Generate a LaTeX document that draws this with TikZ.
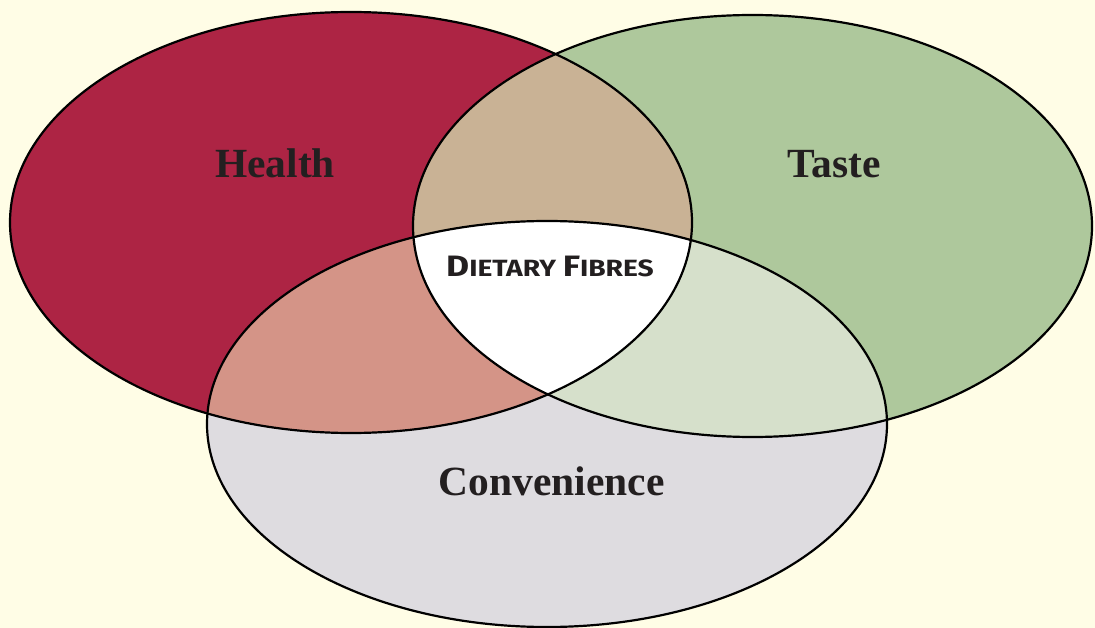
\documentclass[tikz,border=0pt]{standalone}
\usepackage{fontspec}
\setmainfont{Liberation Serif}
\newfontfamily\firafont{Fira Sans}
\definecolor{bgcream}{HTML}{FFFDE6}
\definecolor{healthred}{HTML}{AD2444}
\definecolor{tastegreen}{HTML}{AEC89C}
\definecolor{convgray}{HTML}{DEDCE0}
\definecolor{htbrown}{HTML}{C9B295}
\definecolor{hcpink}{HTML}{D49487}
\definecolor{tclight}{HTML}{D6E0CB}
\definecolor{inkdark}{HTML}{231F20}
\newcommand\dfbig{\fontsize{29.5pt}{32pt}\selectfont}
\newcommand\dfsmall{\fontsize{23.5pt}{32pt}\selectfont}
\tikzset{
  healthshape/.style={insert path={(351,222.5) ellipse [x radius=341pt, y radius=210.5pt]}},
  tasteshape/.style={insert path={(752.5,226) ellipse [x radius=339.5pt, y radius=211pt]}},
  convshape/.style={insert path={(547,424) ellipse [x radius=340pt, y radius=203pt]}},
  outline/.style={draw=black, line width=2.2pt},
  setlabel/.style={anchor=base, text=inkdark, font=\fontsize{41.5pt}{48pt}\selectfont\bfseries, inner sep=0pt},
  corelabel/.style={anchor=base, text=inkdark, font=\firafont\bfseries, inner sep=0pt, transform shape, xscale=1.2}
}
\begin{document}
\begin{tikzpicture}[x=1pt,y=-1pt]
\fill[bgcream] (0,0) rectangle (1095,628);
\useasboundingbox (0,0) rectangle (1095,628);
% base fills
\fill[healthred, healthshape];
\fill[tastegreen, tasteshape];
\fill[convgray, convshape];
% pairwise overlaps
\begin{scope}
  \clip[healthshape];
  \fill[htbrown, tasteshape];
  \fill[hcpink, convshape];
\end{scope}
\begin{scope}
  \clip[tasteshape];
  \fill[tclight, convshape];
\end{scope}
% triple overlap
\begin{scope}
  \clip[healthshape];
  \clip[tasteshape];
  \fill[white, convshape];
\end{scope}
% outlines
\path[outline, healthshape];
\path[outline, tasteshape];
\path[outline, convshape];
% labels
\node[setlabel] (health) at (275,178) {Health};
\node[setlabel] (taste) at (834,178) {Taste};
\node[setlabel] (convenience) at (551.5,495) {Convenience};
\node[corelabel] (fibres) at (550,277) {\dfbig D\dfsmall IETARY \dfbig F\dfsmall IBRES};
\end{tikzpicture}
\end{document}
